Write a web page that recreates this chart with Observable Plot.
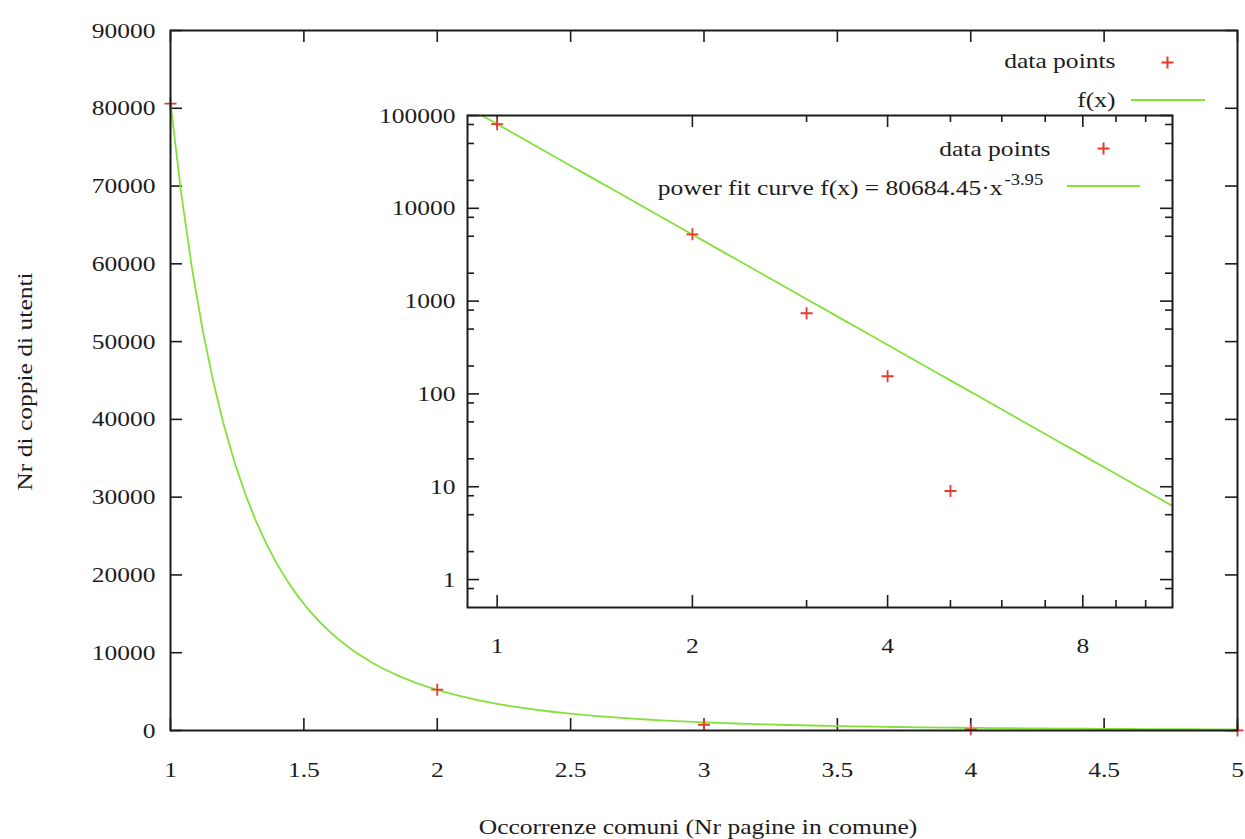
<!DOCTYPE html>
<html>
<head>
<meta charset="utf-8">
<script src="https://cdn.jsdelivr.net/npm/d3@7"></script>
<script src="https://cdn.jsdelivr.net/npm/@observablehq/plot@0.6"></script>
<style>
  html, body { margin: 0; padding: 0; background: #fff; }
  #chart { position: relative; width: 1245px; height: 839px; }
  #chart svg { position: absolute; left: 0; top: 0; }
</style>
</head>
<body>
<div id="chart"></div>
<script>
// ---------- data ----------
const occurrences = [1, 2, 3, 4, 5];
const userPairs = [80600, 5250, 740, 155, 9];
const fitA = 80684.45;
const fitB = -3.95;

// ---------- tick values & labels ----------
const mainXTicks = [1, 1.5, 2, 2.5, 3, 3.5, 4, 4.5, 5];
const mainYTicks = [0, 10000, 20000, 30000, 40000, 50000, 60000, 70000, 80000, 90000];
const insetXTicks = [1, 2, 4, 8];
const insetXMinor = [3, 5, 6, 7, 9, 10];
const insetYTicks = [1, 10, 100, 1000, 10000, 100000];
const insetYMinor = [0.8, 2, 5, 8, 20, 50, 80, 200, 500, 800, 2000, 5000, 8000, 20000, 50000, 80000];

const xTitle = "Occorrenze comuni (Nr pagine in comune)";
const yTitle = "Nr di coppie di utenti";
const legendPoints = "data points";
const legendFitMain = "f(x)";
const legendFitInset = "power fit curve f(x) = 80684.45·x";
const legendFitExp = "-3.95";

// ---------- styling ----------
const RED = "#e63b2e";
const GREEN = "#84e03a";
const INK = "#1c1c1c";
const FONT = "'Liberation Serif', 'Times New Roman', serif";
const W = 1245, H = 839;

const points = occurrences.map((x, i) => ({x, y: userPairs[i]}));

// fitted curve f(x) = fitA * x^fitB, sampled like gnuplot (100 samples)
const mainCurve = d3.range(101).map(i => {
  const x = 1 + i * (5 - 1) / 100;
  return {x, y: fitA * Math.pow(x, fitB)};
});
const insetCurve = d3.range(101).map(i => {
  const x = 0.9 * Math.pow(11 / 0.9, i / 100);
  return {x, y: fitA * Math.pow(x, fitB)};
});

const plusSymbol = {
  draw(ctx, size) {
    const r = Math.sqrt(size / Math.PI);
    ctx.moveTo(-r, 0); ctx.lineTo(r, 0);
    ctx.moveTo(0, -r); ctx.lineTo(0, r);
  }
};

function inwardTicks(xt, yt, len, plotW, plotH, sw) {
  const o = {stroke: INK, strokeWidth: sw};
  return [
    Plot.tickY(yt, {y: d => d, insetRight: plotW - len, ...o}),
    Plot.tickY(yt, {y: d => d, insetLeft: plotW - len, ...o}),
    Plot.tickX(xt, {x: d => d, insetTop: plotH - len, ...o}),
    Plot.tickX(xt, {x: d => d, insetBottom: plotH - len, ...o})
  ];
}

function legendLine(dxEnd, dy, len) {
  return (index, scales, values, dims) => {
    const x2 = dims.width - dims.marginRight + dxEnd;
    const y = dims.marginTop + dy;
    return d3.create("svg:line")
      .attr("x1", x2 - len).attr("x2", x2)
      .attr("y1", y).attr("y2", y)
      .attr("stroke", GREEN).attr("stroke-width", 2.2)
      .node();
  };
}

function legendText(txt, dx, dy, extra = {}) {
  return Plot.text([txt], {text: d => d, frameAnchor: "top-right", dx, dy,
    textAnchor: "end", lineAnchor: "middle", fill: INK, ...extra});
}

function legendPlus(dx, dy) {
  return Plot.dot([0], {x: null, y: null, frameAnchor: "top-right", dx, dy,
    symbol: plusSymbol, r: 6, stroke: RED, strokeWidth: 2, fill: "none"});
}

// ---------- main chart ----------
const mL = 170, mR = 8, mT = 30, mB = 109;
const mW = W - mL - mR, mH = H - mT - mB;

const mainPlot = Plot.plot({
  width: W, height: H,
  marginLeft: mL, marginRight: mR, marginTop: mT, marginBottom: mB,
  style: {fontFamily: FONT, fontSize: "22px", background: "transparent", color: INK, overflow: "visible"},
  x: {domain: [1, 5]},
  y: {domain: [0, 90000]},
  marks: [
    ...inwardTicks(mainXTicks, mainYTicks, 12, mW, mH, 1.6),
    Plot.axisX({ticks: mainXTicks, tickSize: 0, tickPadding: 31, tickFormat: d => String(d), label: null, fill: INK}),
    Plot.axisY({ticks: mainYTicks, tickSize: 0, tickPadding: 15, tickFormat: d => String(d), label: null, fill: INK}),
    Plot.line(mainCurve, {x: "x", y: "y", stroke: GREEN, strokeWidth: 1.8}),
    Plot.dot(points, {x: "x", y: "y", symbol: plusSymbol, r: 6, stroke: RED, strokeWidth: 1.8, fill: "none"}),
    Plot.frame({stroke: INK, strokeWidth: 2}),
    Plot.text([xTitle], {text: d => d, frameAnchor: "bottom", dx: -6, dy: 96, lineAnchor: "middle", fill: INK}),
    Plot.text([yTitle], {text: d => d, frameAnchor: "left", dx: -146, dy: 1, rotate: -90, lineAnchor: "middle", textAnchor: "middle", fill: INK}),
    legendText(legendPoints, -122, 30),
    legendPlus(-70, 32),
    legendText(legendFitMain, -122, 69),
    legendLine(-32, 70, 74)
  ]
});

// ---------- inset (log-log) ----------
const iL = 467, iR = W - 1172, iT = 115, iB = H - 607;
const iW = W - iL - iR, iH = H - iT - iB;

const insetPlot = Plot.plot({
  width: W, height: H,
  marginLeft: iL, marginRight: iR, marginTop: iT, marginBottom: iB,
  style: {fontFamily: FONT, fontSize: "22px", background: "transparent", color: INK, overflow: "visible"},
  x: {type: "log", base: 2, domain: [0.9, 11]},
  y: {type: "log", domain: [0.5, 100000]},
  marks: [
    ...inwardTicks(insetXTicks, insetYTicks, 12, iW, iH, 1.6),
    ...inwardTicks(insetXMinor, insetYMinor, 7, iW, iH, 1.6),
    Plot.axisX({ticks: insetXTicks, tickSize: 0, tickPadding: 30, tickFormat: d => String(d), label: null, fill: INK}),
    Plot.axisY({ticks: insetYTicks, tickSize: 0, tickPadding: 12, tickFormat: d => String(d), label: null, fill: INK}),
    Plot.line(insetCurve, {x: "x", y: "y", stroke: GREEN, strokeWidth: 1.8, clip: true}),
    Plot.dot(points, {x: "x", y: "y", symbol: plusSymbol, r: 6, stroke: RED, strokeWidth: 1.8, fill: "none"}),
    Plot.frame({stroke: INK, strokeWidth: 2}),
    legendText(legendPoints, -122, 33),
    legendPlus(-69, 33),
    legendText(legendFitInset, -170, 72),
    Plot.text([legendFitExp], {text: d => d, frameAnchor: "top-right", dx: -168, dy: 64,
      textAnchor: "start", lineAnchor: "middle", fontSize: 16, fill: INK}),
    legendLine(-32, 71, 73)
  ]
});

const chart = document.getElementById("chart");
chart.appendChild(mainPlot);
chart.appendChild(insetPlot);

// gnuplot's serif glyphs are a bit wider than Liberation Serif: stretch text along its baseline
function stretchText(svg, k) {
  svg.querySelectorAll("text").forEach(t => {
    const w = t.getComputedTextLength();
    if (w > 0) {
      t.setAttribute("textLength", (w * k).toFixed(2));
      t.setAttribute("lengthAdjust", "spacingAndGlyphs");
    }
  });
}
stretchText(mainPlot, 1.16);
stretchText(insetPlot, 1.16);
</script>
</body>
</html>
